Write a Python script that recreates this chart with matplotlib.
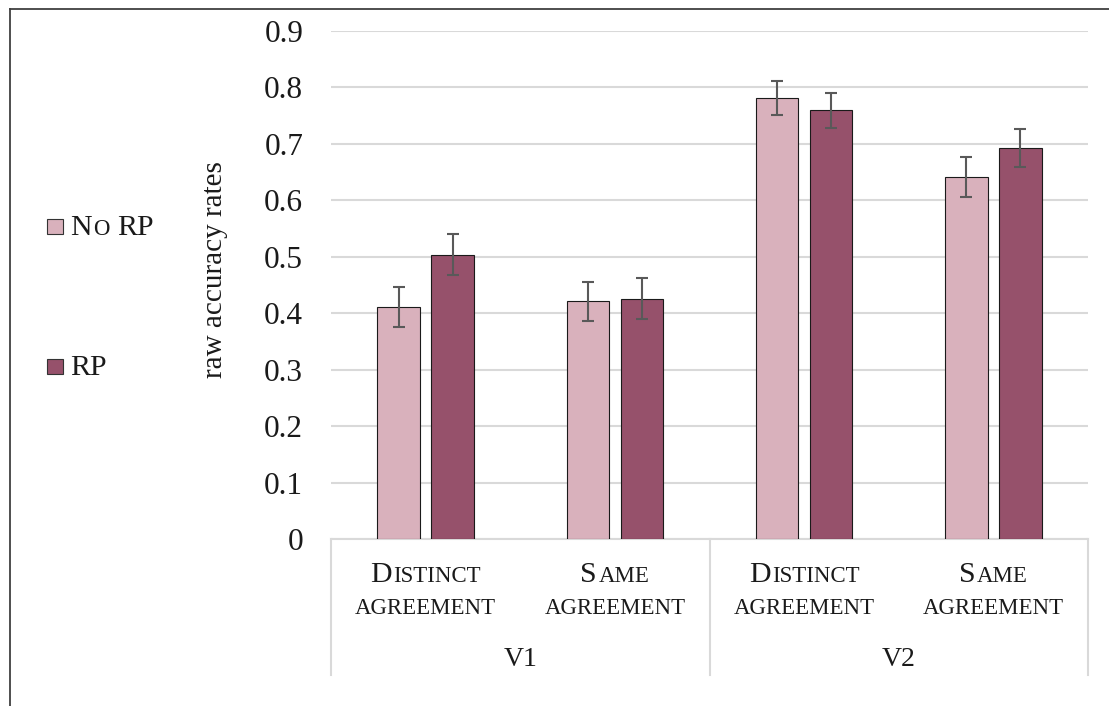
import matplotlib
matplotlib.use("Agg")
import matplotlib.pyplot as plt
from matplotlib.patches import Rectangle
from matplotlib.lines import Line2D
from matplotlib.transforms import IdentityTransform
import numpy as np

# data
groups = ["V1", "V2"]
conditions = [[("D", "ISTINCT")], [("S", "AME")], [("D", "ISTINCT")], [("S", "AME")]]
no_rp = [0.411, 0.421, 0.781, 0.641]
no_rp_err = [0.036, 0.035, 0.030, 0.035]
rp = [0.504, 0.426, 0.760, 0.693]
rp_err = [0.036, 0.036, 0.031, 0.034]
yticks = [0, 0.1, 0.2, 0.3, 0.4, 0.5, 0.6, 0.7, 0.8, 0.9]
ytick_labels = ["0", "0.1", "0.2", "0.3", "0.4", "0.5", "0.6", "0.7", "0.8", "0.9"]

FONT = "Liberation Serif"
PINK = "#D9B1BC"
PLUM = "#96516B"
GRID = "#D9D9D9"
BIG, SMALL = 21.5, 16.5

W, H = 1109, 706
fig = plt.figure(figsize=(W / 100, H / 100), dpi=100)
ax = fig.add_axes([331 / W, 1 - 539 / H, (1088 - 331) / W, (539 - 31) / H])

x = np.arange(len(no_rp))
bw = 0.225
ax.bar(x - 0.143, no_rp, bw, color=PINK, edgecolor="#1a1a1a", linewidth=0.8, zorder=3)
ax.bar(x + 0.143, rp, bw, color=PLUM, edgecolor="#1a1a1a", linewidth=0.8, zorder=3)
ax.errorbar(x - 0.143, no_rp, yerr=no_rp_err, fmt="none", ecolor="#595959",
            elinewidth=1.5, capsize=4, capthick=1.5, zorder=4)
ax.errorbar(x + 0.143, rp, yerr=rp_err, fmt="none", ecolor="#595959",
            elinewidth=1.5, capsize=4, capthick=1.5, zorder=4)

ax.set_xlim(-0.5, len(no_rp) - 0.5)
ax.set_ylim(0, 0.9)
ax.set_yticks(yticks)
ax.set_yticklabels(ytick_labels, fontsize=22.5, family=FONT, color="#1a1a1a")
ax.tick_params(axis="y", length=0, pad=20)
ax.set_xticks([])
ax.grid(axis="y", color=GRID, linewidth=1.5, zorder=0)
for s in ["top", "right", "left"]:
    ax.spines[s].set_visible(False)
ax.spines["bottom"].set_color(GRID)
ax.spines["bottom"].set_linewidth(1.5)

ax.set_ylabel("raw accuracy rates", fontsize=21, family=FONT, color="#1a1a1a")
ax.yaxis.set_label_coords(-0.153, 0.531)
ax.yaxis.label.set_va("center")

# group separators below the axis
for xs in [-0.5, 1.5, 3.5]:
    ax.add_line(Line2D([xs, xs], [0, -0.268], transform=ax.get_xaxis_transform(),
                       color=GRID, linewidth=1.5, clip_on=False))

renderer = fig.canvas.get_renderer()


def caps_line(xc, y_top, pieces, center=True):
    # fake small caps: pieces are (text, size, gap before in px)
    arts, widths = [], []
    for s, fs, g in pieces:
        t = fig.text(0, 0, s, fontsize=fs, family=FONT, transform=IdentityTransform(),
                     va="baseline", ha="left", color="#1a1a1a")
        arts.append(t)
        widths.append(t.get_window_extent(renderer).width)
    total = sum(widths) + sum(p[2] for p in pieces)
    px = xc - total / 2 if center else xc
    for t, w, p in zip(arts, widths, pieces):
        px += p[2]
        t.set_position((px, H - y_top))
        px += w


for i, cond in enumerate(conditions):
    xc = ax.transData.transform((i, 0))[0]
    first, rest = cond[0]
    caps_line(xc, 582, [(first, BIG, 0), (rest, SMALL, 1.5)])
    caps_line(xc, 614, [("AGREEMENT", SMALL, 0)])

for j, g in enumerate(groups):
    xc = ax.transData.transform((2 * j + 0.5, 0))[0]
    caps_line(xc, 666, [(g, 20, 0)])

# legend drawn by hand (small caps label)
fig.add_artist(Rectangle((47, H - 234), 15.5, 15.5, transform=IdentityTransform(),
                         facecolor=PINK, edgecolor="#333333", linewidth=0.8))
fig.add_artist(Rectangle((47, H - 374), 15.5, 15.5, transform=IdentityTransform(),
                         facecolor=PLUM, edgecolor="#333333", linewidth=0.8))
caps_line(70, 235, [("N", BIG, 0), ("O", SMALL, 1.5), ("RP", BIG, 8)], center=False)
caps_line(70, 375, [("RP", BIG, 0)], center=False)

# outer frame (top and left edges visible)
fig.add_artist(Line2D([9.5, W], [H - 8.5, H - 8.5], transform=IdentityTransform(),
                      color="#404040", linewidth=1.3))
fig.add_artist(Line2D([9.5, 9.5], [0, H - 8.5], transform=IdentityTransform(),
                      color="#404040", linewidth=1.3))

fig.savefig("out.png", dpi=100)
